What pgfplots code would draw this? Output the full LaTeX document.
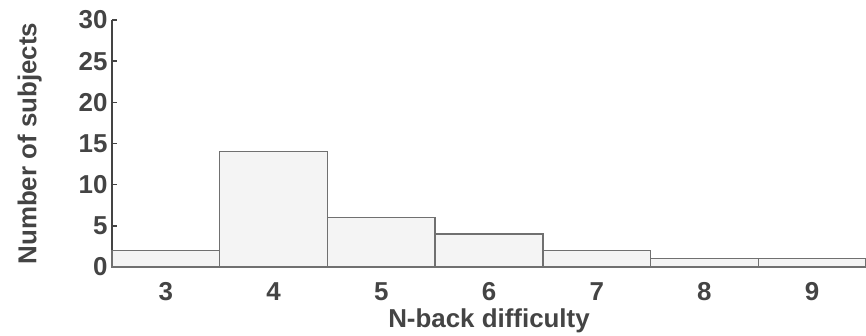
\documentclass[border=0pt]{standalone}
\usepackage{pgfplots}
\pgfplotsset{compat=1.18}
\usepackage{fontspec}
\setmainfont{Liberation Sans}
\definecolor{txt}{HTML}{444444}
\definecolor{barfill}{HTML}{F4F4F4}
\definecolor{baredge}{HTML}{707070}
\begin{document}
\begin{tikzpicture}
\useasboundingbox (0,0) rectangle (866bp,336bp);
\begin{axis}[
  at={(112bp,69bp)}, anchor=origin,
  scale only axis, width=754bp, height=247bp,
  xmin=2.5, xmax=9.5, ymin=0, ymax=30,
  axis x line*=bottom, axis y line*=left,
  axis line style={txt, line width=1.8bp, -},
  xtick={3,4,5,6,7,8,9},
  ytick={0,5,10,15,20,25,30},
  x tick style={draw=none},
  y tick style={txt, line width=1.5bp},
  major tick length=5bp,
  tick align=inside,
  /pgf/number format/assume math mode=true,
  tick label style={font=\fontsize{26}{26}\selectfont\bfseries, text=txt},
  yticklabel style={xshift=-1bp},
  xticklabel style={yshift=-12bp},
  xlabel={N-back difficulty},
  ylabel={Number of subjects},
  label style={font=\fontsize{26}{26}\selectfont\bfseries, text=txt},
  xlabel style={yshift=-1bp},
  ylabel style={yshift=30bp},
  clip=false,
]
\addplot[ybar interval, fill=barfill, draw=baredge, line width=1.4bp]
  coordinates {(2.5,2) (3.5,14) (4.5,6) (5.5,4) (6.5,2) (7.5,1) (8.5,1) (9.5,1)};
\end{axis}
\end{tikzpicture}
\end{document}
